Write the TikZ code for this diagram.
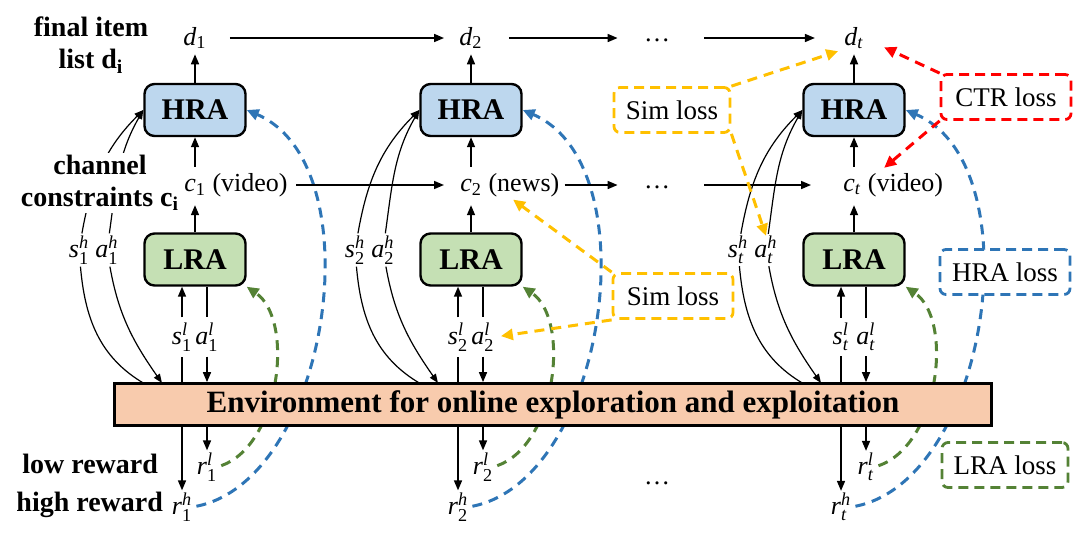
\documentclass[tikz,border=0pt]{standalone}
\usepackage{amsmath}
\usepackage{fontspec}
\setmainfont{Liberation Serif}
\usepackage{tikz}
\usetikzlibrary{arrows.meta,positioning}
\definecolor{hrafill}{HTML}{BDD7EE}
\definecolor{lrafill}{HTML}{C5E0B4}
\definecolor{envfill}{HTML}{F8CBAD}
\definecolor{hrablue}{HTML}{2E75B6}
\definecolor{lragreen}{HTML}{548235}
\definecolor{simgold}{HTML}{FFC000}
\definecolor{ctrred}{HTML}{FF0000}
\newcommand{\rlvar}[3]{$\textit{#1}^{\textit{#2}}_{\textrm{#3}}$}

\begin{document}
\begin{tikzpicture}[x=0.5pt,y=-0.5pt,
    agent/.style={draw, line width=1.2pt, rounded corners=5pt, minimum width=50.5pt, minimum height=26pt, font=\fontsize{15}{18}\selectfont\bfseries},
    var/.style={inner sep=0pt, font=\fontsize{13}{15}\selectfont},
    side/.style={align=center, font=\fontsize{14}{16}\selectfont\bfseries},
    loss/.style={draw, line width=1.4pt, dash pattern=on 5pt off 3pt, fill=white, rounded corners=3pt, minimum height=22.5pt, font=\fontsize{13.5}{16}\selectfont},
    flow/.style={line width=0.8pt, -{Triangle[length=5pt,width=4pt]}},
    link/.style={line width=0.6pt},
    arr/.style={-{Triangle[length=4.5pt,width=3.5pt]}},
    lossflow/.style={line width=1.5pt, dash pattern=on 5pt off 3.5pt, -{Triangle[length=6pt,width=5.5pt]}},
]
    \useasboundingbox (0,0) rectangle (1080,532);

    % Agents and variables per step
    \foreach \i/\x/\subs/\chname in {1/195/1/video, 2/471/2/news, 3/854/\textit{t}/video} {
        \node[agent, fill=hrafill] (hra\i) at (\x,110) {HRA};
        \node[agent, fill=lrafill] (lra\i) at (\x,259.5) {LRA};
        \node[var] (d\i) at (\x,38) {$\textit{d}_{\textrm{\subs}}$};
        \node[var, anchor=west] (c\i) at (\x-11,185) {$\textit{c}_{\textrm{\subs}}$ (\chname)};
        \node[var] (sh\i) at (\x-116,250) {\rlvar{s}{h}{\subs}};
        \node[var] (ah\i) at (\x-88,250) {\rlvar{a}{h}{\subs}};
        \node[var] (sl\i) at (\x-13,337) {\rlvar{s}{l}{\subs}};
        \node[var] (al\i) at (\x+12,337) {\rlvar{a}{l}{\subs}};
        \node[var] (rl\i) at (\x+12,467) {\rlvar{r}{l}{\subs}};
        \node[var] (rh\i) at (\x-13,507) {\rlvar{r}{h}{\subs}};
        \coordinate (es\i) at (\x-50,384);
        \coordinate (ea\i) at (\x-33,383);

        \draw[flow, shorten >=4pt] (lra\i.north) -- (c\i.south -| lra\i);
        \draw[flow, shorten <=3pt] (c\i.north -| hra\i) -- (hra\i.south);
        \draw[flow, shorten >=2.5pt] (hra\i.north) -- (d\i.south);

        % high level state / action
        \draw[link, arr, shorten <=1pt] (sh\i) to[out=80, in=225] (hra\i.west);
        \draw[link, arr, shorten <=1pt] (ah\i) to[out=82, in=240] (hra\i.west);
        \draw[link, shorten <=1pt] (sh\i) to[out=-85, in=150] (es\i);
        \draw[link, arr, shorten <=1pt] (ah\i) to[out=-80, in=125] (ea\i);

        % losses back to the agents
        \draw[lossflow, hrablue, shorten <=2pt] (rh\i.east) .. controls (\x+135,480) and (\x+180,165) .. (hra\i.east);
        \draw[lossflow, lragreen, shorten <=2pt] (rl\i.east) .. controls (\x+85,445) and (\x+100,320) .. (lra\i.south east);
    }

    % Environment
    \node[draw, line width=1.5pt, fill=envfill, minimum width=438.5pt, minimum height=19.5pt,
          font=\fontsize{15.5}{18}\selectfont\bfseries] (env) at (553,404.5)
          {Environment for online exploration and exploitation};

    \foreach \i in {1,2,3} {
        \draw[link, shorten >=2.5pt] (env.north -| sl\i) -- (sl\i);
        \draw[flow, shorten <=2.5pt] (sl\i) -- (lra\i.south -| sl\i);
        \draw[link, shorten >=2.5pt] (lra\i.south -| al\i) -- (al\i);
        \draw[flow, shorten <=2.5pt] (al\i) -- (env.north -| al\i);
        \draw[flow, shorten >=1pt] (env.south -| rl\i) -- (rl\i);
        \draw[flow, shorten >=1pt] (env.south -| rh\i) -- (rh\i);
    }

    % Dots
    \node[var, anchor=base] (dd) at (657,41) {\dots};
    \node[var, anchor=base] (dc) at (657,188) {\dots};
    \node[var, anchor=base] (dr) at (657,484) {\dots};

    % Item list and channel chains
    \draw[flow, shorten <=11.5pt, shorten >=7.5pt] (d1.east) -- (d2.west);
    \draw[flow, shorten <=13pt, shorten >=13pt] (d2.east) -- (dd.west |- d2.east);
    \draw[flow, shorten <=17pt, shorten >=14.5pt] (dd.east |- d3.west) -- (d3.west);
    \draw[flow, shorten <=4pt, shorten >=8pt] (c1.east) -- (c2.west);
    \draw[flow, shorten <=2.5pt, shorten >=13pt] (c2.east) -- (dc.west |- c2.east);
    \draw[flow, shorten <=17pt, shorten >=16pt] (dc.east |- c3.west) -- (c3.west);

    % Side labels
    \node[side] (final) at (91,45) {final item\\list d\textsubscript{i}};
    \node[side, fill=white, inner sep=1pt] (chan) at (100,183) {channel\\constraints c\textsubscript{i}};
    \node[side, anchor=east] (low) at (165,464) {low reward};
    \node[side, anchor=east] (high) at (170,505) {high reward};

    % Loss boxes
    \node[loss, draw=simgold, minimum width=58pt] (sim1) at (672,110) {Sim loss};
    \node[loss, draw=simgold, minimum width=60pt] (sim2) at (673,296) {Sim loss};
    \node[loss, draw=ctrred, minimum width=65pt] (ctr) at (1006,97) {CTR loss};
    \node[loss, draw=hrablue, minimum width=65pt] (hral) at (1005,272) {HRA loss};
    \node[loss, draw=lragreen, minimum width=63pt] (lral) at (1005,465) {LRA loss};

    \draw[lossflow, simgold, shorten >=3pt] (sim1.north east) -- (d3.south west);
    \draw[lossflow, simgold] (sim1.south east) -- (ah3.north);
    \draw[lossflow, simgold, shorten >=2pt] (sim2.north west) -- (c2.south);
    \draw[lossflow, simgold, shorten >=3pt] (sim2.south west) -- (al2.east);
    \draw[lossflow, ctrred, shorten >=11pt] (ctr.north west) -- (d3.east);
    \draw[lossflow, ctrred] (ctr.south west) -- ([xshift=-4.5pt,yshift=2.5pt]c3.north);
\end{tikzpicture}
\end{document}
